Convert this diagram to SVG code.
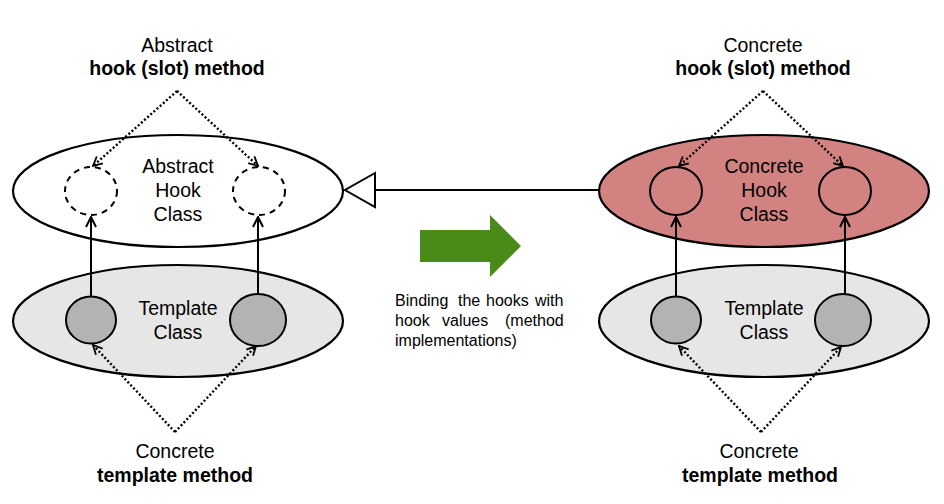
<svg xmlns="http://www.w3.org/2000/svg" width="944" height="504" viewBox="0 0 944 504">
<defs>
<marker id="open" viewBox="0 0 12 12" refX="11" refY="6" markerWidth="12" markerHeight="12" markerUnits="userSpaceOnUse" orient="auto">
<path d="M1,1 L11,6 L1,11" fill="none" stroke="#000" stroke-width="2"/>
</marker>
<marker id="openD" viewBox="0 0 12 12" refX="11" refY="6" markerWidth="11" markerHeight="11" markerUnits="userSpaceOnUse" orient="auto">
<path d="M1,1 L11,6 L1,11" fill="none" stroke="#000" stroke-width="2"/>
</marker>
</defs>
<style>
.t{font-family:"Liberation Sans",Arial,sans-serif;font-size:19.5px;fill:#000;text-anchor:middle}
.b{font-weight:bold}
.s{font-family:"Liberation Sans",Arial,sans-serif;font-size:16px;fill:#000}
.ell{stroke:#000;stroke-width:2.2}
.dash{fill:none;stroke:#000;stroke-width:2;stroke-dasharray:6,5}
.gray{fill:#b3b3b3;stroke:#000;stroke-width:2}
.hook{fill:none;stroke:#000;stroke-width:2}
.dot{fill:none;stroke:#000;stroke-width:2.4;stroke-dasharray:2,2.2;marker-end:url(#openD)}
.solid{fill:none;stroke:#000;stroke-width:2;marker-end:url(#open)}
</style>
<rect width="944" height="504" fill="#fff"/>

<g id="abstract-hook-class">
<ellipse class="ell" cx="178" cy="191" rx="165" ry="56" fill="#fff"/>
<ellipse class="dash" cx="91" cy="191" rx="26" ry="24"/>
<ellipse class="dash" cx="259" cy="191" rx="26" ry="24"/>
<text class="t" x="178" y="173">Abstract</text>
<text class="t" x="178" y="197">Hook</text>
<text class="t" x="178" y="221">Class</text>
</g>

<g id="template-class-left">
<ellipse class="ell" cx="178" cy="321" rx="165" ry="56" fill="#e6e6e6"/>
<ellipse class="gray" cx="91" cy="320" rx="25" ry="23.5"/>
<ellipse class="gray" cx="258" cy="320" rx="28" ry="26"/>
<text class="t" x="178" y="315">Template</text>
<text class="t" x="178" y="339">Class</text>
</g>

<g id="concrete-hook-class">
<ellipse class="ell" cx="764" cy="191" rx="165" ry="56" fill="#d38282"/>
<ellipse class="hook" cx="676" cy="191" rx="26" ry="24"/>
<ellipse class="hook" cx="845" cy="191" rx="26" ry="24"/>
<text class="t" x="764" y="173">Concrete</text>
<text class="t" x="764" y="197">Hook</text>
<text class="t" x="764" y="221">Class</text>
</g>

<g id="template-class-right">
<ellipse class="ell" cx="764" cy="321" rx="165" ry="56" fill="#e6e6e6"/>
<ellipse class="gray" cx="676" cy="320" rx="25" ry="23.5"/>
<ellipse class="gray" cx="843" cy="320" rx="28" ry="26"/>
<text class="t" x="764" y="315">Template</text>
<text class="t" x="764" y="339">Class</text>
</g>

<g id="labels">
<text class="t" x="177" y="52">Abstract</text>
<text class="t b" x="177" y="75">hook (slot) method</text>
<text class="t" x="175" y="458">Concrete</text>
<text class="t b" x="175" y="482">template method</text>
<text class="t" x="763" y="52">Concrete</text>
<text class="t b" x="763" y="75">hook (slot) method</text>
<text class="t" x="759" y="458">Concrete</text>
<text class="t b" x="760" y="482">template method</text>
</g>

<g id="binding-note">
<path d="M420,230 H490 V215 L521,246 L490,277 V262 H420 Z" fill="#4a8a18"/>
<text class="s" y="306"><tspan x="395">Binding</tspan><tspan x="458">the</tspan><tspan x="486">hooks</tspan><tspan x="535">with</tspan></text>
<text class="s" y="326"><tspan x="395">hook</tspan><tspan x="442">values</tspan><tspan x="505">(method</tspan></text>
<text class="s" y="346"><tspan x="395">implementations)</tspan></text>
</g>

<g id="connectors">
<line x1="598" y1="190" x2="375" y2="190" stroke="#000" stroke-width="2"/>
<path d="M375,173 L345,190 L375,207 Z" fill="#fff" stroke="#000" stroke-width="2"/>
<line class="solid" x1="91" y1="296" x2="91" y2="217"/>
<line class="solid" x1="258" y1="294" x2="258" y2="217"/>
<line class="solid" x1="676" y1="296" x2="676" y2="217"/>
<line class="solid" x1="845" y1="294" x2="845" y2="217"/>
<polyline class="dot" points="177,91 93,166"/>
<polyline class="dot" points="177,91 258,166"/>
<polyline class="dot" points="763,91 679,166"/>
<polyline class="dot" points="763,91 843,166"/>
<polyline class="dot" points="175,432 93,345"/>
<polyline class="dot" points="175,432 256,346"/>
<polyline class="dot" points="761,432 679,346"/>
<polyline class="dot" points="761,432 841,347"/>
</g>
</svg>
